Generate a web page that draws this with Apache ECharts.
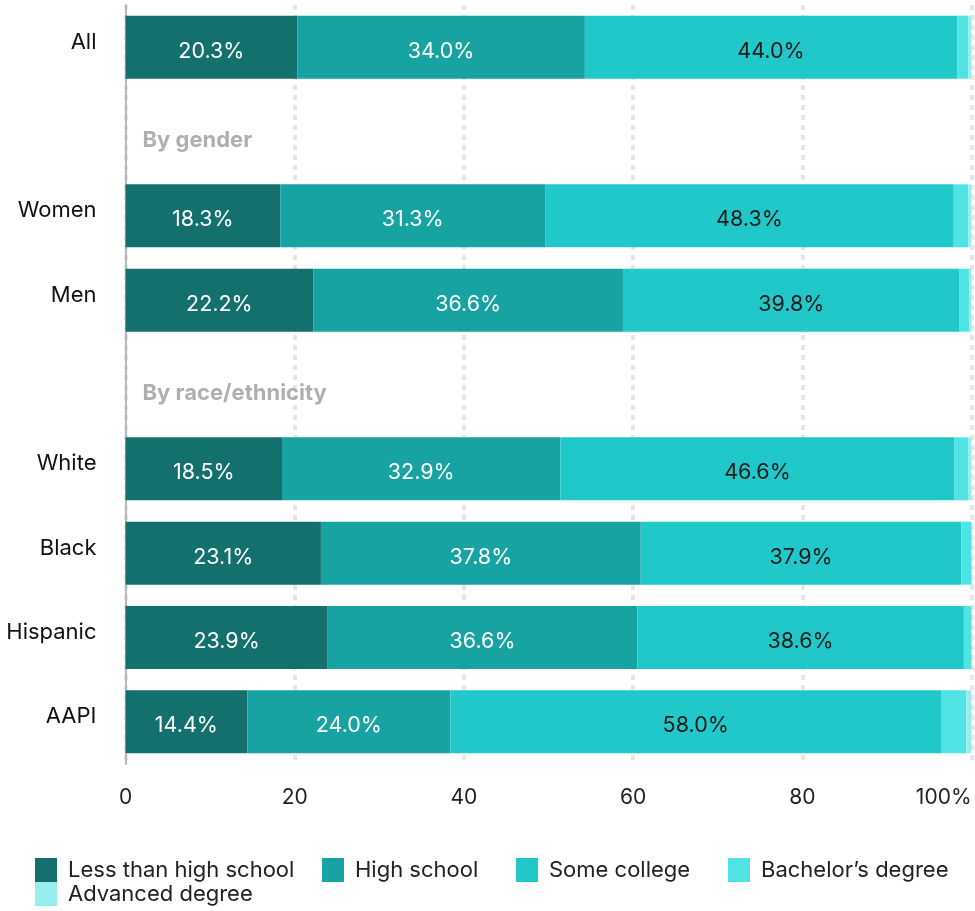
<!DOCTYPE html>
<html>
<head>
<meta charset="utf-8">
<script src="https://cdn.jsdelivr.net/npm/echarts@6/dist/echarts.min.js"></script>
<style>
  html, body { margin: 0; padding: 0; background: #fff; }
  #chart { width: 975px; height: 911px; }
</style>
</head>
<body>
<div id="chart"></div>
<script>
// Rows from top to bottom; the two group headings are empty rows.
const categories = ['All', 'By gender', 'Women', 'Men', 'By race/ethnicity', 'White', 'Black', 'Hispanic', 'AAPI'];
const headings = ['By gender', 'By race/ethnicity'];

const seriesNames = ['Less than high school', 'High school', 'Some college', 'Bachelor\u2019s degree', 'Advanced degree'];
const lessThanHighSchool = [20.3, null, 18.3, 22.2, null, 18.5, 23.1, 23.9, 14.4];
const highSchool         = [34.0, null, 31.3, 36.6, null, 32.9, 37.8, 36.6, 24.0];
const someCollege        = [44.0, null, 48.3, 39.8, null, 46.6, 37.9, 38.6, 58.0];
const bachelors          = [1.3,  null, 1.7,  1.1,  null, 1.6,  1.2,  0.9,  3.0];
const advanced           = [0.4,  null, 0.4,  0.3,  null, 0.4,  0,    0,    0.6];

const xTicks = [0, 20, 40, 60, 80, 100];

const colors = ['#13706d', '#17a3a2', '#21c8c9', '#4fe3e4', '#98eeee'];
const labelColors = ['#ffffff', '#ffffff', '#1a1a1a', null, null];
const FONT = 'Inter';
const FS = 22;

// Legend item placement (left edge, top edge) for each series key
const legendSlots = [[35, 858], [322, 858], [516, 858], [728, 858], [35, 882]];

const values = [lessThanHighSchool, highSchool, someCollege, bachelors, advanced];

const barSeries = values.map((vals, i) => ({
  name: seriesNames[i],
  type: 'bar',
  stack: 'total',
  barWidth: 63,
  data: vals,
  itemStyle: { color: colors[i] },
  label: {
    show: labelColors[i] !== null,
    position: 'inside',
    offset: [0, 4],
    color: labelColors[i] || '#fff',
    fontFamily: FONT,
    fontSize: FS - 0.5,
    formatter: p => (p.value == null ? '' : p.value.toFixed(1) + '%')
  },
  emphasis: { disabled: true },
  animation: false
}));

// Group headings written inside the plot, at the start of their empty rows
const headingSeries = {
  type: 'scatter',
  symbolSize: 0,
  data: headings.map(h => [0, h]),
  label: {
    show: true,
    position: 'right',
    distance: 17,
    offset: [0, 9],
    color: '#9b9b9b',
    fontWeight: 'bold',
    fontFamily: FONT,
    fontSize: FS,
    formatter: p => p.value[1]
  },
  silent: true,
  animation: false,
  z: 5
};

const legendText = { color: '#222', fontFamily: FONT, fontSize: FS, padding: [4, 0, 0, 6] };

const legends = seriesNames.map((name, i) => ({
  data: [name],
  left: legendSlots[i][0],
  top: legendSlots[i][1],
  padding: 0,
  icon: 'rect',
  itemWidth: 22,
  itemHeight: 24,
  textStyle: legendText,
  selectedMode: false
}));

const chart = echarts.init(document.getElementById('chart'), null, { renderer: 'canvas' });
chart.setOption({
  backgroundColor: '#ffffff',
  animation: false,
  grid: { left: 125.5, right: 3.5, top: 5, height: 759, containLabel: false },
  xAxis: {
    type: 'value',
    min: xTicks[0],
    max: xTicks[xTicks.length - 1],
    interval: 20,
    axisLine: { show: false },
    axisTick: { show: false },
    axisLabel: {
      margin: 23,
      color: '#222',
      fontFamily: FONT,
      fontSize: FS - 1,
      alignMaxLabel: 'right',
      formatter: v => (v === 100 ? '100%' : String(v))
    },
    splitLine: {
      show: true,
      lineStyle: { color: '#e6e6e6', width: 4, type: [5, 5] }
    }
  },
  yAxis: {
    type: 'category',
    data: categories,
    inverse: true,
    axisLine: { show: true, lineStyle: { color: '#b8b8b8', width: 2 } },
    axisTick: { show: false },
    axisLabel: {
      margin: 29,
      color: '#111',
      fontFamily: FONT,
      fontSize: FS,
      verticalAlign: 'bottom',
      lineHeight: 10,
      formatter: v => (headings.includes(v) ? '' : v)
    }
  },
  legend: legends,
  series: [...barSeries, headingSeries]
});
</script>
</body>
</html>
